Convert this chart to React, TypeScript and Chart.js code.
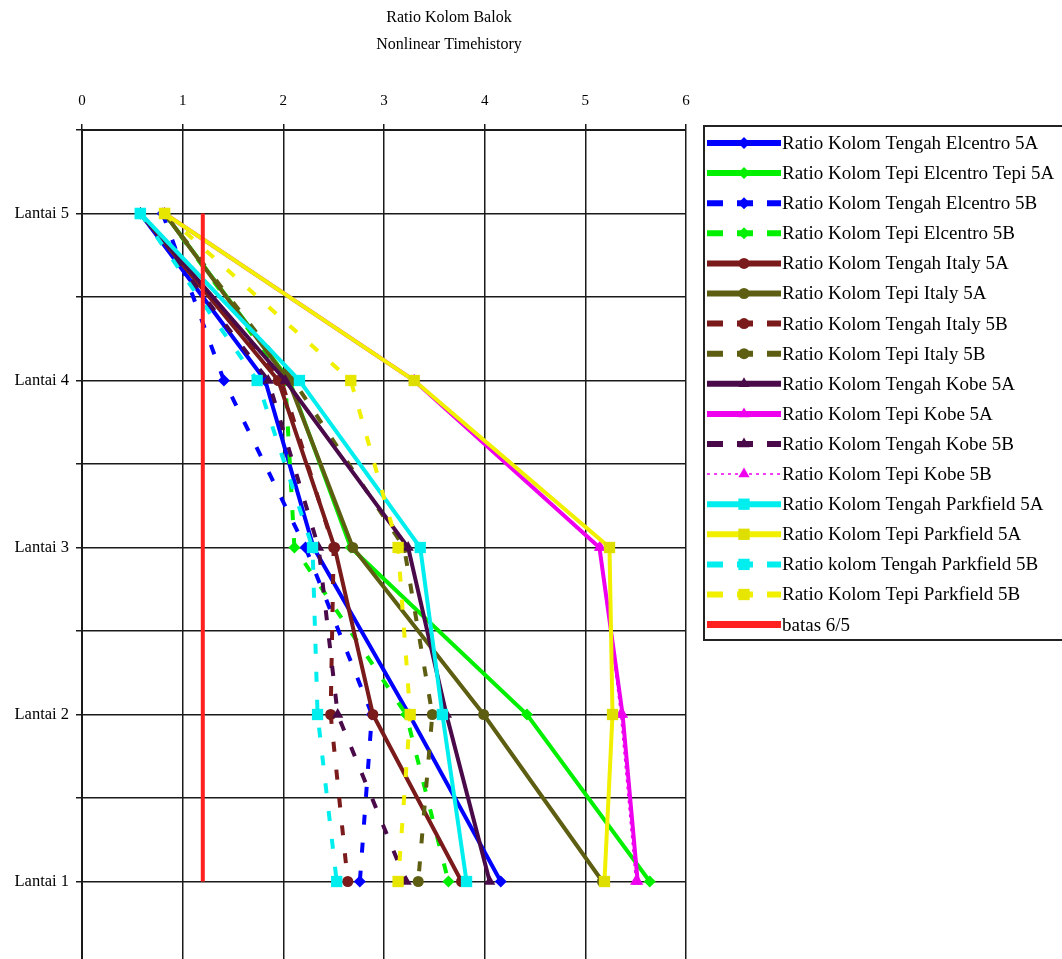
import React, { useEffect, useRef } from 'react';
import { Chart, registerables } from 'chart.js';

Chart.register(...registerables);

// ---------- data ----------
const floors = [5, 4, 3, 2, 1];
const floorNames = ['Lantai 5', 'Lantai 4', 'Lantai 3', 'Lantai 2', 'Lantai 1'];
const titleLines = ['Ratio Kolom Balok', 'Nonlinear Timehistory'];

const tengahElcentro5A = [0.58, 1.82, 2.30, 3.25, 4.16];
const tepiElcentro5A = [0.82, 2.06, 2.67, 4.42, 5.64];
const tengahElcentro5B = [0.80, 1.41, 2.22, 2.88, 2.76];
const tepiElcentro5B = [0.82, 2.02, 2.11, 3.22, 3.64];
const tengahItaly5A = [0.58, 1.95, 2.51, 2.89, 3.77];
const tepiItaly5A = [0.82, 2.05, 2.69, 3.99, 5.17];
const tengahItaly5B = [0.58, 1.98, 2.50, 2.47, 2.64];
const tepiItaly5B = [0.82, 2.10, 3.20, 3.48, 3.34];
const tengahKobe5A = [0.58, 2.02, 3.24, 3.62, 4.05];
const tepiKobe5A = [0.82, 3.30, 5.14, 5.37, 5.52];
const tengahKobe5B = [0.58, 1.85, 2.35, 2.54, 3.22];
const tepiKobe5B = [0.82, 3.30, 5.15, 5.35, 5.50];
const tengahParkfield5A = [0.58, 2.16, 3.36, 3.58, 3.82];
const tepiParkfield5A = [0.82, 3.30, 5.24, 5.27, 5.19];
const tengahParkfield5B = [0.58, 1.74, 2.29, 2.34, 2.53];
const tepiParkfield5B = [0.82, 2.67, 3.14, 3.26, 3.14];
const batasValue = 1.2;
const batasFloors = [5, 1];

// ---------- styles ----------
const BLUE = '#0000ff';
const GREEN = '#00f000';
const DRED = '#7a1a1a';
const OLIVE = '#5e5e12';
const PURPLE = '#4a0a4a';
const MAGENTA = '#ee00ee';
const CYAN = '#00eeee';
const YELLOW = '#f0f000';
const RED = '#ff2020';

const DASH = [10, 18];
const LEGEND_DASH = [16, 14];

type SeriesDef = {
  label: string;
  values: number[];
  color: string;
  marker: string;
  radius: number;
  dashed?: boolean;
  dotted?: boolean;
  fill?: string;
};

const series: SeriesDef[] = [
  { label: 'Ratio Kolom Tengah Elcentro 5A', values: tengahElcentro5A, color: BLUE, marker: 'rectRot', radius: 6 },
  { label: 'Ratio Kolom Tepi Elcentro Tepi 5A', values: tepiElcentro5A, color: GREEN, marker: 'rectRot', radius: 6 },
  { label: 'Ratio Kolom Tengah Elcentro 5B', values: tengahElcentro5B, color: BLUE, marker: 'rectRot', radius: 6, dashed: true },
  { label: 'Ratio Kolom Tepi Elcentro 5B', values: tepiElcentro5B, color: GREEN, marker: 'rectRot', radius: 6, dashed: true },
  { label: 'Ratio Kolom Tengah Italy 5A', values: tengahItaly5A, color: DRED, marker: 'circle', radius: 5.5 },
  { label: 'Ratio Kolom Tepi Italy 5A', values: tepiItaly5A, color: OLIVE, marker: 'circle', radius: 5.5 },
  { label: 'Ratio Kolom Tengah Italy 5B', values: tengahItaly5B, color: DRED, marker: 'circle', radius: 5.5, dashed: true },
  { label: 'Ratio Kolom Tepi Italy 5B', values: tepiItaly5B, color: OLIVE, marker: 'circle', radius: 5.5, dashed: true },
  { label: 'Ratio Kolom Tengah Kobe 5A', values: tengahKobe5A, color: PURPLE, marker: 'triangle', radius: 6.5 },
  { label: 'Ratio Kolom Tepi Kobe 5A', values: tepiKobe5A, color: MAGENTA, marker: 'triangle', radius: 6.5 },
  { label: 'Ratio Kolom Tengah Kobe 5B', values: tengahKobe5B, color: PURPLE, marker: 'triangle', radius: 6.5, dashed: true },
  { label: 'Ratio Kolom Tepi Kobe 5B', values: tepiKobe5B, color: MAGENTA, marker: 'triangle', radius: 6.5, dotted: true },
  { label: 'Ratio Kolom Tengah Parkfield 5A', values: tengahParkfield5A, color: CYAN, marker: 'rect', radius: 8 },
  { label: 'Ratio Kolom Tepi Parkfield 5A', values: tepiParkfield5A, color: YELLOW, marker: 'rect', radius: 8, fill: '#dede00' },
  { label: 'Ratio kolom Tengah Parkfield 5B', values: tengahParkfield5B, color: CYAN, marker: 'rect', radius: 8, dashed: true },
  { label: 'Ratio Kolom Tepi Parkfield 5B', values: tepiParkfield5B, color: YELLOW, marker: 'rect', radius: 8, dashed: true, fill: '#e6e600' },
];

const SERIF = '"Liberation Serif", "Times New Roman", serif';

function drawMarker(ctx: CanvasRenderingContext2D, style: string, x: number, y: number, r: number) {
  ctx.beginPath();
  if (style === 'circle') {
    ctx.arc(x, y, r, 0, Math.PI * 2);
  } else if (style === 'rectRot') {
    ctx.moveTo(x - r, y);
    ctx.lineTo(x, y - r);
    ctx.lineTo(x + r, y);
    ctx.lineTo(x, y + r);
    ctx.closePath();
  } else if (style === 'triangle') {
    let a = 0;
    ctx.moveTo(x + Math.sin(a) * r, y - Math.cos(a) * r);
    a += (2 * Math.PI) / 3;
    ctx.lineTo(x + Math.sin(a) * r, y - Math.cos(a) * r);
    a += (2 * Math.PI) / 3;
    ctx.lineTo(x + Math.sin(a) * r, y - Math.cos(a) * r);
    ctx.closePath();
  } else if (style === 'rect') {
    const s = r * Math.SQRT1_2;
    ctx.rect(x - s, y - s, 2 * s, 2 * s);
  }
  ctx.fill();
}

const decorPlugin = {
  id: 'decor',
  afterDraw(chart: any) {
    const ctx: CanvasRenderingContext2D = chart.ctx;
    ctx.save();
    // title
    ctx.fillStyle = '#000';
    ctx.font = `16px ${SERIF}`;
    ctx.textAlign = 'center';
    ctx.textBaseline = 'middle';
    titleLines.forEach((t, i) => ctx.fillText(t, 449, 18 + i * 27));

    // legend box
    const left = 704;
    const top = 126;
    ctx.strokeStyle = '#222';
    ctx.lineWidth = 2;
    ctx.strokeRect(left, top, 420, 514);

    const datasets = chart.data.datasets;
    datasets.forEach((ds: any, i: number) => {
      const y = 143 + i * 30.1;
      ctx.save();
      ctx.strokeStyle = ds.borderColor;
      ctx.lineWidth = ds.legendWidth;
      ctx.setLineDash(ds.legendDash || []);
      ctx.lineCap = 'butt';
      ctx.beginPath();
      ctx.moveTo(707, y);
      ctx.lineTo(781, y);
      ctx.stroke();
      ctx.setLineDash([]);
      if (ds.pointRadius > 0) {
        ctx.fillStyle = ds.pointBackgroundColor;
        drawMarker(ctx, ds.pointStyle, 744, y, ds.pointRadius);
      }
      ctx.restore();
      ctx.fillStyle = '#000';
      ctx.font = `19px ${SERIF}`;
      ctx.textAlign = 'left';
      ctx.textBaseline = 'middle';
      ctx.fillText(ds.label, 782, y + 1);
    });
    ctx.restore();
  },
};

export default function App() {
  const canvasRef = useRef<HTMLCanvasElement | null>(null);

  useEffect(() => {
    if (!canvasRef.current) return;

    const datasets: any[] = series.map((s, i) => ({
      label: s.label,
      data: floors.map((f, k) => ({ x: s.values[k], y: f })),
      borderColor: s.color,
      backgroundColor: s.fill || s.color,
      borderWidth: s.dotted ? 1.5 : 4,
      borderDash: s.dashed ? DASH : s.dotted ? [3, 4] : [],
      legendDash: s.dashed ? LEGEND_DASH : s.dotted ? [3, 4] : [],
      legendWidth: s.dotted ? 1.5 : 6,
      pointStyle: s.marker,
      pointRadius: s.radius,
      pointBackgroundColor: s.fill || s.color,
      pointBorderColor: s.fill || s.color,
      pointBorderWidth: 0,
      showLine: true,
      tension: 0,
      order: -i,
    }));

    datasets.push({
      label: 'batas 6/5',
      data: batasFloors.map((f) => ({ x: batasValue, y: f })),
      borderColor: RED,
      backgroundColor: RED,
      borderWidth: 4,
      borderDash: [],
      legendDash: [],
      legendWidth: 7,
      pointStyle: 'circle',
      pointRadius: 0,
      pointBackgroundColor: RED,
      showLine: true,
      tension: 0,
      order: -100,
    });

    const chart = new Chart(canvasRef.current, {
      type: 'scatter',
      data: { datasets },
      options: {
        animation: false,
        responsive: false,
        maintainAspectRatio: false,
        devicePixelRatio: 1,
        layout: { padding: { left: 0, right: 376, top: 0, bottom: 0 } },
        plugins: {
          legend: { display: false },
          title: { display: false },
          tooltip: { enabled: false },
        },
        scales: {
          x: {
            type: 'linear',
            position: 'top',
            min: 0,
            max: 6,
            afterFit: (s: any) => {
              s.height = 130;
              s.paddingLeft = 0;
              s.paddingRight = 0;
            },
            ticks: {
              stepSize: 1,
              color: '#000',
              padding: 14,
              font: { family: SERIF, size: 15 },
            },
            grid: {
              color: '#1a1a1a',
              lineWidth: 1.5,
              tickLength: 6,
              drawTicks: true,
            },
            border: { display: true, color: '#1a1a1a', width: 2 },
          },
          y: {
            type: 'linear',
            min: 0.5,
            max: 5.5,
            afterFit: (s: any) => {
              s.width = 82;
              s.paddingTop = 0;
              s.paddingBottom = 0;
            },
            ticks: {
              stepSize: 0.5,
              autoSkip: false,
              color: '#000',
              padding: 7,
              font: { family: SERIF, size: 16.5 },
              callback: (v: any) => {
                const idx = floors.indexOf(Number(v));
                return idx >= 0 ? floorNames[idx] : '';
              },
            },
            grid: {
              color: '#1a1a1a',
              lineWidth: 1.5,
              tickLength: 6,
              drawTicks: true,
            },
            border: { display: true, color: '#1a1a1a', width: 2 },
          },
        },
      },
      plugins: [decorPlugin],
    } as any);

    return () => chart.destroy();
  }, []);

  return (
    <div
      style={{
        position: 'fixed',
        left: 0,
        top: 0,
        width: 1062,
        height: 959,
        overflow: 'hidden',
        background: '#fff',
      }}
    >
      <canvas ref={canvasRef} width={1062} height={973} style={{ display: 'block' }} />
    </div>
  );
}
